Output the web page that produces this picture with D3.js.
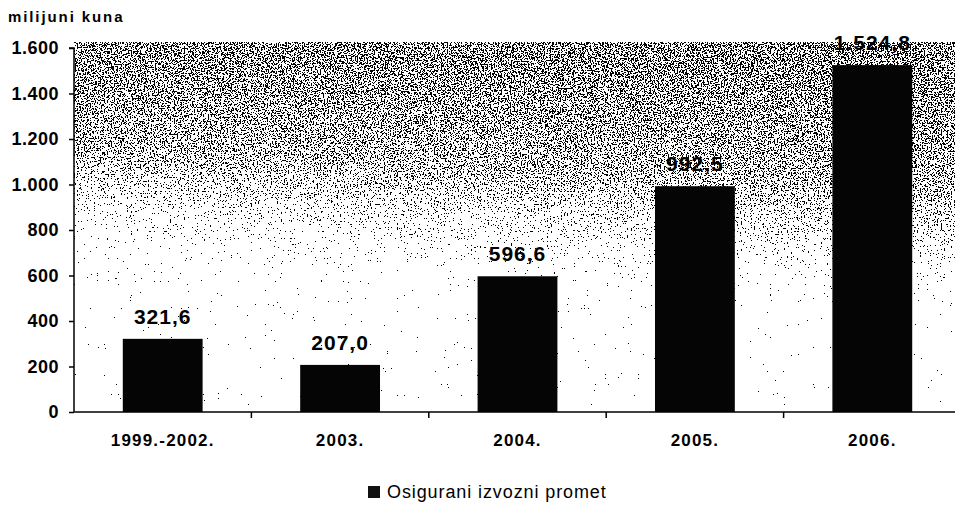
<!DOCTYPE html>
<html>
<head>
<meta charset="utf-8">
<script src="https://cdn.jsdelivr.net/npm/d3@7"></script>
<style>
  body { margin: 0; background: #fff; }
  text { font-family: "Liberation Sans", Arial, sans-serif; fill: #000; }
</style>
</head>
<body>
<div class="canvas"></div>
<script>
const categories = ["1999.-2002.", "2003.", "2004.", "2005.", "2006."];
const values = [321.6, 207.0, 596.6, 992.5, 1524.8];
const yTicks = [0, 200, 400, 600, 800, 1000, 1200, 1400, 1600];
const seriesName = "Osigurani izvozni promet";
const unitLabel = "milijuni kuna";

const dims = { width: 955, height: 506 };
const plot = { left: 74, right: 961, top: 48, bottom: 412 };

const hr = d3.formatLocale({ decimal: ",", thousands: ".", grouping: [3], currency: ["", " kn"] });
const fmtTick = hr.format(",.0f");
const fmtVal = hr.format(",.1f");

const svg = d3
  .select(".canvas")
  .append("svg")
  .attr("width", dims.width)
  .attr("height", dims.height);

const x = d3.scaleBand().domain(categories).range([plot.left, plot.right]).paddingInner(0.55).paddingOuter(0.275);
const xOuter = d3.scaleBand().domain(categories).range([plot.left, plot.right]);
const y = d3.scaleLinear().domain([0, 1600]).range([plot.bottom, plot.top]);

// speckled background (stipple noise fading downwards)
const defs = svg.append("defs");
const grad = defs
  .append("linearGradient")
  .attr("id", "fade")
  .attr("x1", "12%")
  .attr("x2", "0%")
  .attr("y1", "0%")
  .attr("y2", "100%");
grad.append("stop").attr("offset", "0%").style("stop-color", "#000").style("stop-opacity", 0.6);
grad.append("stop").attr("offset", "30%").style("stop-color", "#000").style("stop-opacity", 0.5);
grad.append("stop").attr("offset", "43%").style("stop-color", "#000").style("stop-opacity", 0.3);
grad.append("stop").attr("offset", "56%").style("stop-color", "#000").style("stop-opacity", 0.1);
grad.append("stop").attr("offset", "68%").style("stop-color", "#000").style("stop-opacity", 0);

const filt = defs
  .append("filter")
  .attr("id", "stipple")
  .attr("filterUnits", "userSpaceOnUse")
  .attr("x", plot.left)
  .attr("y", plot.top - 6)
  .attr("width", dims.width - plot.left)
  .attr("height", plot.bottom - plot.top);
filt.append("feTurbulence").attr("type", "fractalNoise").attr("baseFrequency", 0.7).attr("numOctaves", 2).attr("seed", 4).attr("result", "noise");
filt.append("feColorMatrix").attr("in", "noise").attr("type", "matrix")
  .attr("values", "0 0 0 0 0  0 0 0 0 0  0 0 0 0 0  1 0 0 0 0").attr("result", "noiseA");
filt.append("feComposite").attr("in", "SourceAlpha").attr("in2", "noiseA").attr("operator", "arithmetic")
  .attr("k1", 0).attr("k2", 1).attr("k3", 2.2).attr("k4", -1.25).attr("result", "mix");
const ct = filt.append("feComponentTransfer").attr("in", "mix").attr("result", "dots");
ct.append("feFuncA").attr("type", "discrete").attr("tableValues", "0 1");
filt.append("feFlood").attr("flood-color", "#000").attr("result", "ink");
filt.append("feComposite").attr("in", "ink").attr("in2", "dots").attr("operator", "in");

svg
  .append("rect")
  .attr("x", plot.left)
  .attr("y", plot.top - 6)
  .attr("width", dims.width - plot.left)
  .attr("height", plot.bottom - plot.top)
  .attr("fill", "url(#fade)")
  .attr("filter", "url(#stipple)");

// bars
svg
  .append("g")
  .selectAll("rect")
  .data(values)
  .enter()
  .append("rect")
  .attr("x", (d, i) => x(categories[i]))
  .attr("y", (d) => y(d))
  .attr("width", x.bandwidth())
  .attr("height", (d) => y(0) - y(d))
  .attr("fill", "#050505");

// value labels
svg
  .append("g")
  .selectAll("text")
  .data(values)
  .enter()
  .append("text")
  .attr("x", (d, i) => x(categories[i]) + x.bandwidth() / 2)
  .attr("y", (d) => y(d) - 15)
  .attr("text-anchor", "middle")
  .attr("font-size", 21)
  .attr("font-weight", "bold")
  .attr("letter-spacing", 1)
  .text((d) => fmtVal(d));

// y axis
const yAxis = d3.axisLeft(y).tickValues(yTicks).tickFormat(fmtTick).tickSize(5).tickPadding(10);
const yg = svg.append("g").attr("transform", `translate(${plot.left},0)`).call(yAxis);
yg.select(".domain").attr("stroke", "#000").attr("stroke-width", 1.5).attr("d", `M-5,${plot.top}H0V${plot.bottom}`);
yg.selectAll(".tick line").attr("stroke", "#000").attr("stroke-width", 1.5);
yg.selectAll(".tick text")
  .attr("font-size", 18)
  .attr("font-weight", "bold")
  .attr("letter-spacing", 0.5)
  .attr("font-family", "Liberation Sans, Arial, sans-serif")
  .attr("fill", "#000");

// x axis
const xAxis = d3.axisBottom(xOuter).tickSize(0).tickPadding(22);
const xg = svg.append("g").attr("transform", `translate(0,${plot.bottom})`).call(xAxis);
xg.select(".domain").attr("stroke", "#000").attr("stroke-width", 1.5).attr("d", `M${plot.left},0H${dims.width}`);
xg.selectAll(".tick text")
  .attr("font-size", 17)
  .attr("font-weight", "bold")
  .attr("letter-spacing", 1.2)
  .attr("font-family", "Liberation Sans, Arial, sans-serif")
  .attr("fill", "#000");
xg.selectAll(".sep")
  .data(categories.slice(1))
  .enter()
  .append("line")
  .attr("class", "sep")
  .attr("x1", (d) => xOuter(d))
  .attr("x2", (d) => xOuter(d))
  .attr("y1", 0)
  .attr("y2", 6)
  .attr("stroke", "#000")
  .attr("stroke-width", 1.5);

// unit label
svg
  .append("text")
  .attr("x", 8)
  .attr("y", 22)
  .attr("font-size", 15)
  .attr("font-weight", "bold")
  .attr("letter-spacing", 1.9)
  .text(unitLabel);

// legend
const lg = svg.append("g").attr("transform", "translate(368,498)");
lg.append("rect").attr("x", 0).attr("y", -12).attr("width", 12).attr("height", 12).attr("fill", "#111");
lg.append("text").attr("x", 19).attr("y", 0).attr("font-size", 18).attr("letter-spacing", 0.9).text(seriesName);
</script>
</body>
</html>
